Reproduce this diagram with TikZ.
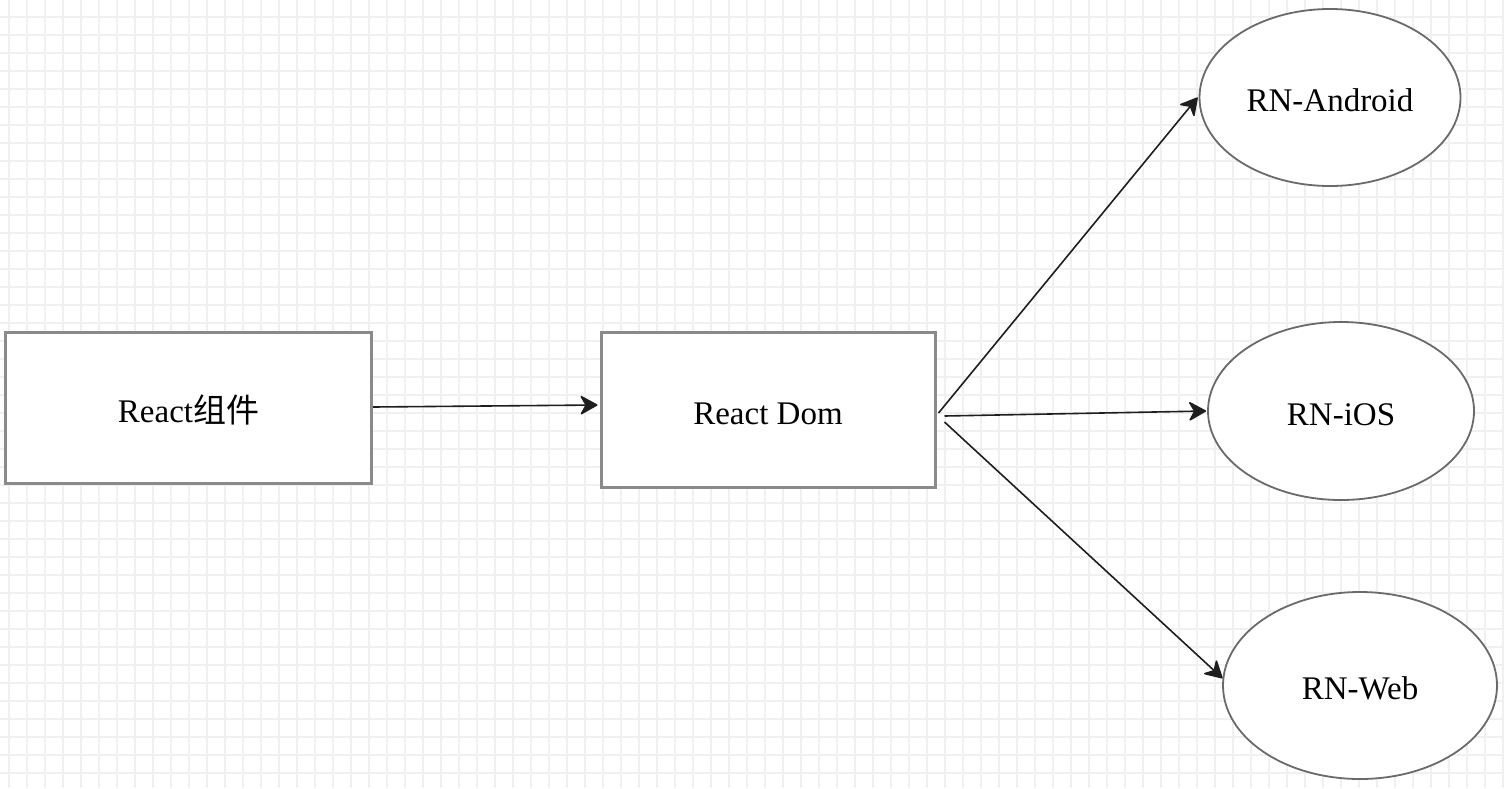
\documentclass[tikz,border=0pt]{standalone}
\usepackage{fontspec}
\setmainfont{Liberation Serif}
\newfontfamily\cjk{Noto Sans CJK SC}
\usetikzlibrary{shapes.geometric,arrows.meta}
\definecolor{gridc}{HTML}{F0F0F0}
\definecolor{boxc}{HTML}{8A8A8A}
\definecolor{ellc}{HTML}{6A6A6A}
\definecolor{linec}{HTML}{1E1E1E}
\begin{document}
\begin{tikzpicture}[x=1pt,y=-1pt,
  boxnode/.style={draw=boxc,line width=3pt,fill=white,rectangle,inner sep=0pt,text height=28pt,text depth=0pt,font=\fontsize{33}{38}\selectfont},
  ellnode/.style={draw=ellc,line width=1.8pt,fill=white,ellipse,inner sep=0pt,text height=28pt,text depth=0pt,font=\fontsize{33}{38}\selectfont},
  conn/.style={draw=linec,line width=1.6pt,-{Stealth[length=19pt,width=21pt,inset=6pt,round]}}]
\useasboundingbox (0,0) rectangle (1504,788);
\fill[white] (0,0) rectangle (1504,788);
\foreach \i in {0,...,83} {\draw[gridc,line width=1.6pt] (9+18*\i,0) -- (9+18*\i,788);}
\foreach \j in {0,...,43} {\draw[gridc,line width=1.6pt] (0,17+18*\j) -- (1504,17+18*\j);}
\node[boxnode,minimum width=366pt,minimum height=151pt] (b1) at (188.5,408) {React{\cjk 组件}};
\node[boxnode,minimum width=334pt,minimum height=155pt] (b2) at (768,410) {React Dom};
\node[ellnode,minimum width=261pt,minimum height=177pt] (e1) at (1330,97.5) {RN-Android};
\node[ellnode,minimum width=266pt,minimum height=178pt] (e2) at (1341,411) {RN-iOS};
\node[ellnode,minimum width=274pt,minimum height=187pt] (e3) at (1360,685.5) {RN-Web};
\coordinate (s1) at ([xshift=2pt,yshift=-3pt]b2.east);
\coordinate (s2) at ([xshift=8pt,yshift=-6pt]b2.east);
\coordinate (s3) at ([xshift=8pt,yshift=-12pt]b2.east);
\draw[conn] ([yshift=1pt]b1.east) -- ([xshift=-2pt,yshift=5pt]b2.west);
\draw[conn] (s1) -- ([xshift=-1pt]e1.west);
\draw[conn] (s2) -- ([xshift=-1pt]e2.west);
\draw[conn] (s3) -- (e3.177);
\end{tikzpicture}
\end{document}
